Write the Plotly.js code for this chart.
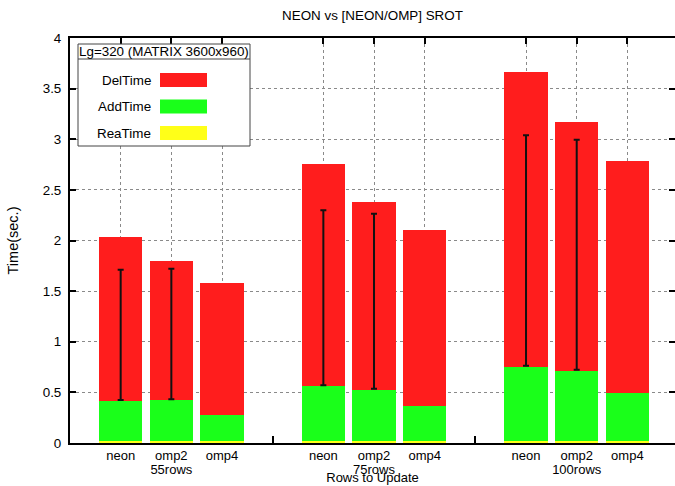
<!DOCTYPE html>
<html><head><meta charset="utf-8">
<script src="https://cdn.plot.ly/plotly-3.0.1.min.js"></script>
<style>html,body{margin:0;padding:0;overflow:hidden;background:#fff}#chart{width:675px;height:486px}</style>
</head><body><div id="chart"></div><script>
// ---- data ----
const groups = ['55rows', '75rows', '100rows'];
const members = ['neon', 'omp2', 'omp4'];
const reaTime = [0.02, 0.02, 0.02, 0.02, 0.02, 0.02, 0.02, 0.02, 0.02];
const addTime = [0.395, 0.405, 0.257, 0.543, 0.507, 0.342, 0.734, 0.694, 0.474];
const delTime = [1.622, 1.369, 1.303, 2.189, 1.853, 1.742, 2.907, 2.453, 2.288];
const errLow  = [0.425, 0.431, null, 0.570, 0.537, null, 0.764, 0.724, null];
const errHigh = [1.712, 1.722, null, 2.298, 2.265, null, 3.039, 2.996, null];
const seriesNames = ['DelTime', 'AddTime', 'ReaTime'];
const legendTitle = 'Lg=320 (MATRIX 3600x960)';
const chartTitle = 'NEON vs [NEON/OMP] SROT';
const xTitle = 'Rows to Update';
const yTitle = 'Time(sec.)';
const yTicks = [0, 0.5, 1, 1.5, 2, 2.5, 3, 3.5, 4];

// ---- styles / layout constants ----
const COLORS = {DelTime: '#ff1d1d', AddTime: '#1aff1a', ReaTime: '#ffff18'};
const FONT = 'Liberation Sans, Arial, Helvetica, sans-serif';
const FS = 13;
const W = 675, H = 486, ML = 70, MR = 0, MT = 38, MB = 43;
const PW = W - ML - MR, PH = H - MT - MB;
const PITCH = 50.67;               // px per x unit
const XR = [0, PW / PITCH];

// positions: 3 bars per group, one empty slot between groups
const xs = [], xlabels = [], gcenters = [], seps = [];
groups.forEach((g, gi) => {
  members.forEach((m, mi) => { xs.push(gi * 4 + mi + 1); xlabels.push(m); });
  gcenters.push(gi * 4 + 2);
  if (gi > 0) seps.push(gi * 4);
});

const barCommon = {type: 'bar', x: xs, width: 0.86, hoverinfo: 'skip', showlegend: false};
const traces = [
  Object.assign({}, barCommon, {name: 'ReaTime', y: reaTime, marker: {color: COLORS.ReaTime, line: {width: 0}}}),
  Object.assign({}, barCommon, {name: 'AddTime', y: addTime, marker: {color: COLORS.AddTime, line: {width: 0}}}),
  Object.assign({}, barCommon, {name: 'DelTime', y: delTime, marker: {color: COLORS.DelTime, line: {width: 0}}}),
  {
    type: 'scatter', mode: 'markers', x: xs,
    y: errLow.map((lo, i) => lo == null ? null : (lo + errHigh[i]) / 2),
    marker: {size: 1, color: 'rgba(0,0,0,0)'},
    error_y: {type: 'data', symmetric: true,
      array: errLow.map((lo, i) => lo == null ? null : (errHigh[i] - lo) / 2),
      color: '#111', thickness: 2, width: 3},
    hoverinfo: 'skip', showlegend: false
  },
  {type: 'scatter', mode: 'none', x: [1], y: [0], xaxis: 'x2', hoverinfo: 'skip', showlegend: false},
  {type: 'scatter', mode: 'none', x: [1], y: [0], xaxis: 'x3', hoverinfo: 'skip', showlegend: false},
  {type: 'scatter', mode: 'none', x: [1], y: [0], xaxis: 'x4', hoverinfo: 'skip', showlegend: false}
];

const px2x = p => (p - ML) / PW;
const py2y = p => (H - MB - p) / PH;

const shapes = [], annotations = [];
// legend box
shapes.push({type: 'rect', xref: 'paper', yref: 'paper', x0: px2x(78), x1: px2x(250), y0: py2y(146), y1: py2y(44),
  fillcolor: '#fff', line: {color: '#444', width: 1}});
shapes.push({type: 'line', xref: 'paper', yref: 'paper', x0: px2x(78), x1: px2x(250), y0: py2y(59), y1: py2y(59),
  line: {color: '#444', width: 1}});
annotations.push({xref: 'paper', yref: 'paper', x: px2x(164), y: py2y(51.5), text: legendTitle, showarrow: false,
  xanchor: 'center', yanchor: 'middle', font: {size: 13.4, family: FONT, color: '#000'}});
seriesNames.forEach((n, k) => {
  const cy = 80 + k * 26.5;
  annotations.push({xref: 'paper', yref: 'paper', x: px2x(153), y: py2y(cy), text: n, showarrow: false,
    xanchor: 'right', yanchor: 'middle', font: {size: 13.4, family: FONT, color: '#000'}});
  shapes.push({type: 'rect', xref: 'paper', yref: 'paper', x0: px2x(160), x1: px2x(207), y0: py2y(cy + 7), y1: py2y(cy - 7),
    fillcolor: COLORS[n], line: {width: 0}});
});

const tf = {size: FS, family: FONT, color: '#000'};
const baseX = {range: XR, zeroline: false, showgrid: false, fixedrange: true};
const layout = {
  width: W, height: H,
  margin: {l: ML, r: MR, t: MT, b: MB, pad: 0},
  paper_bgcolor: '#fff', plot_bgcolor: '#fff',
  font: {family: FONT, size: FS, color: '#000'},
  barmode: 'stack',
  title: {text: chartTitle, x: 0.5, xref: 'paper', xanchor: 'center',
    y: 1 - 15 / H, yanchor: 'middle', yref: 'container', font: {size: 13.4, family: FONT, color: '#000'}},
  xaxis: Object.assign({}, baseX, {
    tickmode: 'array', tickvals: xs, ticktext: xlabels, ticks: '',
    showgrid: true, gridcolor: '#8a8a8a', griddash: 'dot', gridwidth: 1,
    showline: true, linecolor: '#000', linewidth: 2, mirror: true,
    ticklabelstandoff: -1, tickfont: tf,
    title: {text: xTitle, standoff: 11, font: tf}
  }),
  xaxis2: Object.assign({}, baseX, {overlaying: 'x', side: 'top', anchor: 'y',
    tickmode: 'array', tickvals: xs, ticks: 'inside', ticklen: 6, tickwidth: 2, tickcolor: '#000',
    showticklabels: false, showline: false}),
  xaxis3: Object.assign({}, baseX, {overlaying: 'x', side: 'bottom', anchor: 'y',
    tickmode: 'array', tickvals: seps, ticks: 'inside', ticklen: 7, tickwidth: 2, tickcolor: '#000',
    showticklabels: false, showline: false}),
  xaxis4: Object.assign({}, baseX, {overlaying: 'x', side: 'bottom', anchor: 'y',
    tickmode: 'array', tickvals: gcenters, ticktext: groups, ticks: 'outside', ticklen: 14,
    tickcolor: 'rgba(0,0,0,0)', showline: false, tickfont: tf}),
  yaxis: {
    range: [0, 4], tickmode: 'array', tickvals: yTicks, ticks: 'inside', ticklen: 6, tickwidth: 2, tickcolor: '#000',
    showline: true, linecolor: '#000', linewidth: 2, mirror: 'ticks',
    showgrid: true, gridcolor: '#8a8a8a', griddash: 'dot', gridwidth: 1, zeroline: false, fixedrange: true,
    ticklabelstandoff: 4, tickfont: {size: 13.4, family: FONT, color: '#000'},
    title: {text: yTitle, standoff: 21, font: {size: 14.5, family: FONT, color: '#000'}}
  },
  shapes: shapes, annotations: annotations,
  showlegend: false
};
Plotly.newPlot('chart', traces, layout, {staticPlot: true, displayModeBar: false});
</script></body></html>
